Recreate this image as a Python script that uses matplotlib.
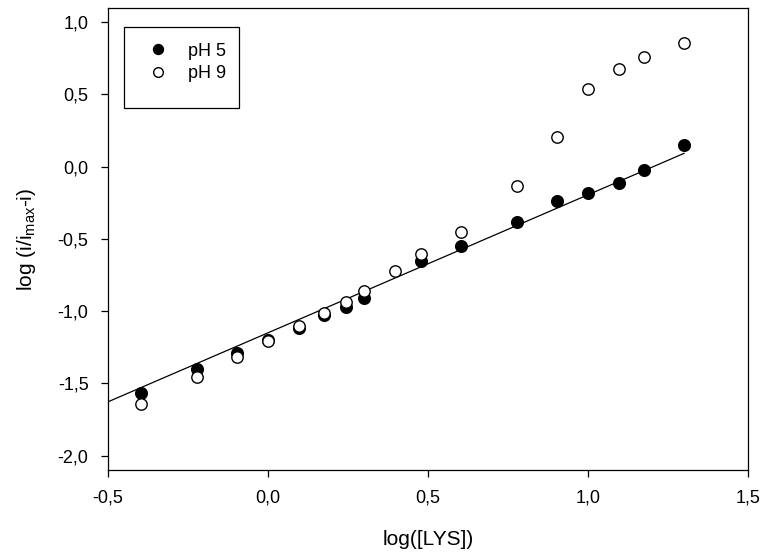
import matplotlib
matplotlib.use('Agg')
import matplotlib.pyplot as plt
from matplotlib.patches import Rectangle

plt.rcParams['font.family'] = ['Liberation Sans', 'DejaVu Sans']
plt.rcParams['mathtext.fontset'] = 'custom'
plt.rcParams['mathtext.rm'] = 'Liberation Sans'
plt.rcParams['mathtext.it'] = 'Liberation Sans'

# Datos: log([LYS]) vs log(i/(imax-i))
x_ph5 = [-0.398, -0.222, -0.097, 0.0, 0.097, 0.176, 0.243, 0.301, 0.477, 0.602,
         0.778, 0.903, 1.0, 1.097, 1.176, 1.301]
y_ph5 = [-1.57, -1.40, -1.29, -1.20, -1.12, -1.03, -0.97, -0.91, -0.65, -0.55,
         -0.38, -0.24, -0.18, -0.11, -0.02, 0.15]

x_ph9 = [-0.398, -0.222, -0.097, 0.0, 0.097, 0.176, 0.243, 0.301, 0.398, 0.477,
         0.602, 0.778, 0.903, 1.0, 1.097, 1.176, 1.301]
y_ph9 = [-1.64, -1.455, -1.317, -1.21, -1.10, -1.01, -0.94, -0.862, -0.72, -0.607,
         -0.452, -0.134, 0.207, 0.541, 0.678, 0.761, 0.853]

# recta de ajuste (pH 5)
fit_x = [-0.5, 1.30]
fit_y = [-1.628, 0.092]

xticks = [-0.5, 0.0, 0.5, 1.0, 1.5]
yticks = [-2.0, -1.5, -1.0, -0.5, 0.0, 0.5, 1.0]

fig = plt.figure(figsize=(7.68, 5.54), dpi=100)
ax = fig.add_axes([0.1406, 0.1516, 0.8334, 0.8344])

ax.plot(fit_x, fit_y, color='black', lw=0.9, zorder=1)
ax.plot(x_ph5, y_ph5, 'o', color='black', ms=8.4, mew=1, label='pH 5', zorder=2)
ax.plot(x_ph9, y_ph9, 'o', mfc='white', mec='black', ms=8.2, mew=1, label='pH 9', zorder=3)

ax.set_xlim(-0.5, 1.5)
ax.set_ylim(-2.1, 1.1)
ax.set_xticks(xticks)
ax.set_yticks(yticks)
ax.set_xticklabels([f'{v:.1f}'.replace('.', ',') for v in xticks])
ax.set_yticklabels([f'{v:.1f}'.replace('.', ',') for v in yticks])
ax.tick_params(direction='out', length=5, width=0.9, labelsize=13, pad=9)
for s in ax.spines.values():
    s.set_linewidth(0.9)

ax.set_xlabel('log([LYS])', fontsize=15, labelpad=17)
ax.set_ylabel(r'log (i/i$_{\mathrm{max}}$-i)', fontsize=15, labelpad=14)

# Leyenda con marco
ax.add_patch(Rectangle((0.025, 0.783), 0.18, 0.175, transform=ax.transAxes,
                       fill=False, ec='black', lw=0.9, zorder=5))
ax.legend(loc='upper left', bbox_to_anchor=(0.052, 0.94), frameon=False,
          fontsize=13, handlelength=1.0, handletextpad=1.2, labelspacing=0.32,
          borderaxespad=0, markerscale=0.85)

plt.savefig('out.png', dpi=100)
